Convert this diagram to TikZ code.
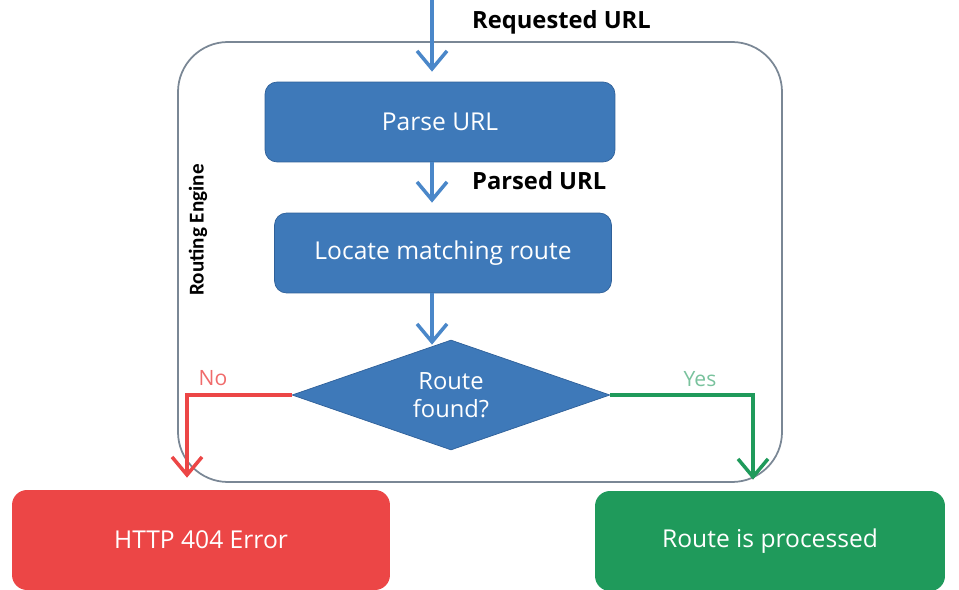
\documentclass[tikz,border=0pt]{standalone}
\usepackage{fontspec}
\setmainfont{Open Sans}
\newfontfamily\narrowfont{Carlito}
\usetikzlibrary{arrows.meta,shapes.geometric}
\definecolor{boxblue}{HTML}{3E79B9}
\definecolor{boxedge}{HTML}{2F6099}
\definecolor{flowblue}{HTML}{4A87C9}
\definecolor{errred}{HTML}{EC4646}
\definecolor{okgreen}{HTML}{1F9A5B}
\definecolor{frame}{HTML}{7A8795}
\tikzset{
  stepbox/.style={draw=boxedge, fill=boxblue, rounded corners=2.4mm, text=white,
    minimum width=7cm, minimum height=1.6cm, font=\fontsize{14}{16}\selectfont},
  endbox/.style={rounded corners=3mm, text=white, minimum height=2cm,
    font=\fontsize{14}{16}\selectfont},
  flow/.style={line width=2pt, -{Straight Barb[length=3.6mm,width=6mm,line width=2pt]}},
  lbl/.style={font=\bfseries\fontsize{13.5}{15}\selectfont, anchor=west},
}
\begin{document}
\begin{tikzpicture}[x=0.02cm, y=-0.02cm]
\useasboundingbox (0,0) rectangle (959,590);
% routing engine frame
\draw[frame, line width=1pt, rounded corners=1cm] (178,42) rectangle (782,482);
\node[rotate=90, font=\narrowfont\bfseries\fontsize{12}{14}\selectfont] (engine) at (198,230) {Routing Engine};

\node[stepbox] (parse) at (440,122) {Parse URL};
\node[stepbox, minimum width=6.74cm] (locate) at (443,253) {Locate matching route};
\node[diamond, aspect=3, draw=boxedge, fill=boxblue, text=white, align=center, inner sep=0pt,
  minimum width=6.36cm, minimum height=2.2cm, font=\fontsize{13.5}{16}\selectfont] (found) at (451,395) {Route\\found?};
\node[endbox, fill=errred, minimum width=7.56cm] (err) at (201,540) {HTTP 404 Error};
\node[endbox, fill=okgreen, minimum width=7cm] (done) at (770,541) {Route is processed};

\coordinate (req) at (432,0);
\coordinate (nox) at (187,0);
\coordinate (yesx) at (753,0);

\draw[flow, flowblue, shorten >=2mm] (req) -- (req |- parse.north);
\draw[flow, flowblue, shorten >=2mm] (req |- parse.south) -- (req |- locate.north);
\draw[flow, flowblue, shorten >=-1mm] (req |- locate.south) -- (req |- found.north);
\draw[flow, errred, shorten >=2.4mm] (found.west) -| (nox |- err.north);
\draw[flow, okgreen, shorten >=2.2mm] (found.east) -| (yesx |- done.north);

\node[lbl] (requrl) at (466,22) {Requested URL};
\node[lbl] (parsedurl) at (466,181) {Parsed URL};
\node[text=errred!80, font=\fontsize{12}{14}\selectfont] (no) at (213,378) {No};
\node[text=okgreen!60, font=\fontsize{12}{14}\selectfont] (yes) at (700,379) {Yes};
\end{tikzpicture}
\end{document}
